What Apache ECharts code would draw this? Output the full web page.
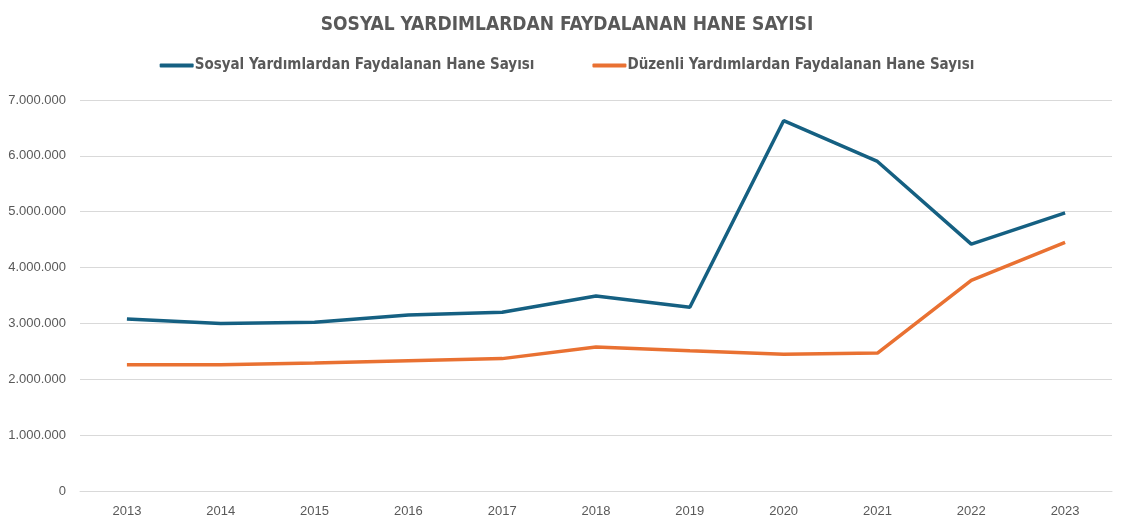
<!DOCTYPE html>
<html><head><meta charset="utf-8">
<script src="https://cdn.jsdelivr.net/npm/echarts@6/dist/echarts.min.js"></script>
<style>html,body{margin:0;padding:0;background:#fff}#c{width:1134px;height:529px}</style>
</head><body><div id="c"></div>
<script>
const categories = ['2013','2014','2015','2016','2017','2018','2019','2020','2021','2022','2023'];
const sosyal = [3080000,3000000,3020000,3150000,3200000,3490000,3290000,6630000,5900000,4420000,4980000];
const duzenli = [2260000,2260000,2290000,2330000,2370000,2580000,2510000,2450000,2470000,3770000,4450000];
const seriesNames = ['Sosyal Yardımlardan Faydalanan Hane Sayısı','Düzenli Yardımlardan Faydalanan Hane Sayısı'];
const chart = echarts.init(document.getElementById('c'));
const fmt = v => String(v).replace(/\B(?=(\d{3})+(?!\d))/g, '.');
chart.setOption({
  animation:false,
  title:{text:'SOSYAL YARDIMLARDAN FAYDALANAN HANE SAYISI',left:'center',top:11,
    textStyle:{fontFamily:'Liberation Sans Narrow, DejaVu Sans Condensed, sans-serif',fontWeight:'bold',fontSize:19,color:'#595959'}},
  legend:{top:53,left:'center',itemGap:58,itemWidth:34,itemHeight:4,icon:'roundRect',
    textStyle:{fontFamily:'Liberation Sans Narrow, DejaVu Sans Condensed, sans-serif',fontWeight:'bold',fontSize:15,color:'#595959',padding:[0,0,0,-4]},
    data:seriesNames},
  grid:{left:80,right:22,top:100,bottom:38,containLabel:false},
  xAxis:{type:'category',data:categories,boundaryGap:true,
    axisLine:{lineStyle:{color:'#d9d9d9'}},axisTick:{show:false},
    axisLabel:{color:'#595959',fontSize:13,fontFamily:'Liberation Sans, sans-serif',margin:14}},
  yAxis:{type:'value',min:0,max:7000000,interval:1000000,
    axisLine:{show:false},axisTick:{show:false},
    splitLine:{lineStyle:{color:'#d9d9d9'}},
    axisLabel:{color:'#595959',fontSize:13,fontFamily:'Liberation Sans, sans-serif',margin:14,formatter:fmt}},
  series:[
    {name:seriesNames[0],type:'line',data:sosyal,symbol:'none',lineStyle:{width:3.5,color:'#156082'},itemStyle:{color:'#156082'}},
    {name:seriesNames[1],type:'line',data:duzenli,symbol:'none',lineStyle:{width:3.5,color:'#E97132'},itemStyle:{color:'#E97132'}}
  ]
});
</script></body></html>
